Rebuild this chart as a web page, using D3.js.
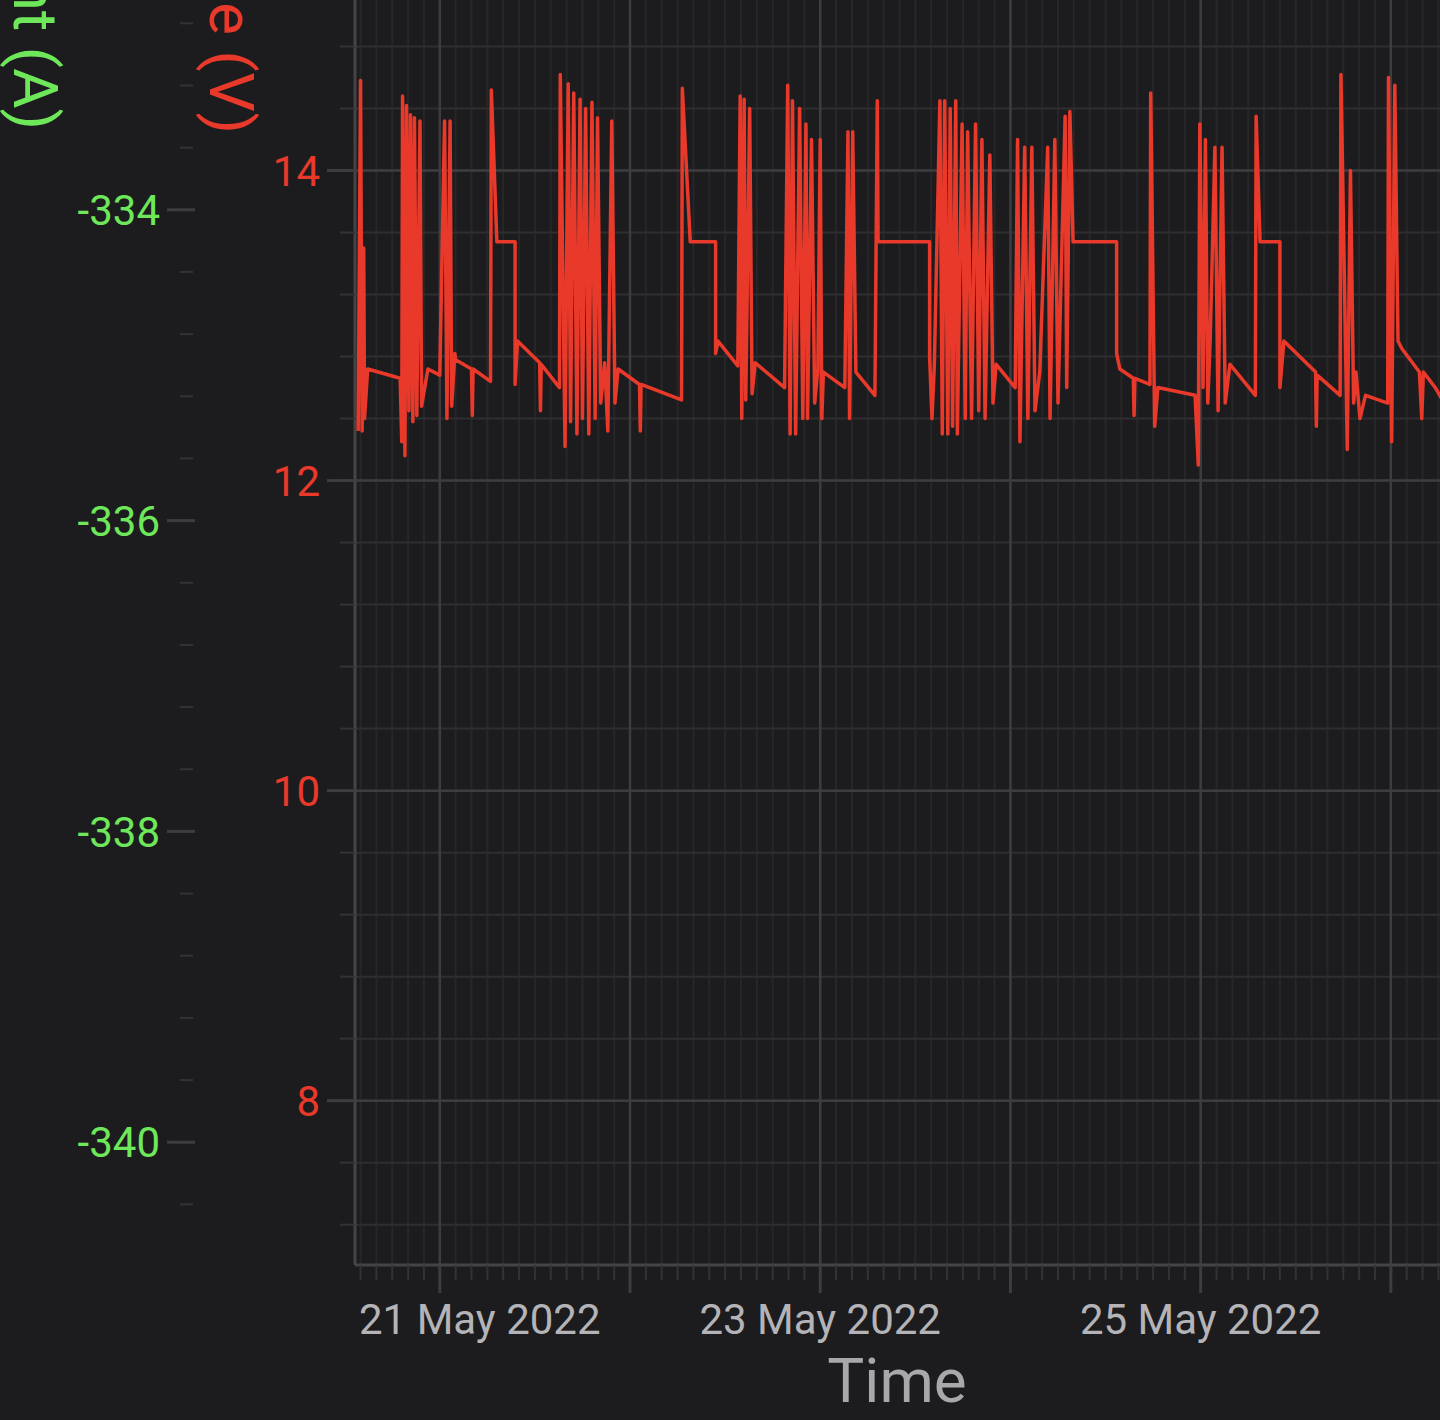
<!DOCTYPE html>
<html>
<head>
<meta charset="utf-8">
<script src="https://cdn.jsdelivr.net/npm/d3@7"></script>
<style>
  body { margin: 0; background: #1c1c1e; }
  text { font-family: Roboto, sans-serif; }
</style>
</head>
<body>
<script>
// hours after 20 May 2022 00:00 UTC
var hours = [13.7, 14.0, 14.2, 14.4, 14.5, 14.9, 19.0, 19.2, 19.3, 19.6, 19.8, 20.1, 20.3, 20.6, 20.8, 21.1, 21.5, 21.7, 22.5,
  24.0, 24.6, 24.9, 25.3, 25.5, 25.9, 26.0, 28.0, 28.1, 28.2, 30.4, 30.5, 31.2, 33.5, 33.5, 33.8, 36.6, 36.7, 36.8,
  39.1, 39.2, 39.8, 40.2, 40.5, 40.9, 41.3, 41.7, 42.0, 42.4, 42.8, 43.2, 43.6, 43.9, 44.3, 44.8, 45.2, 45.7, 46.1, 46.5,
  49.2, 49.3, 49.4, 54.5, 54.6, 55.6, 58.8, 58.8, 59.1, 61.6, 61.9, 62.1, 62.4, 62.6, 63.1, 63.4, 63.8,
  67.5, 67.9, 68.2, 68.5, 68.9, 69.4, 69.8, 70.2, 70.4, 70.9, 71.3, 71.7, 72.0, 72.2, 72.4,
  75.1, 75.5, 75.7, 76.1, 76.5, 78.9, 79.2, 79.3, 85.8, 85.8, 86.1, 86.4,
  87.1, 87.4, 87.7, 88.1, 88.4, 88.7, 89.1, 89.3, 89.9, 90.3, 90.6, 91.1, 91.6, 92.0, 92.4, 92.8, 93.4, 93.8, 94.2,
  96.6, 96.9, 97.2, 97.8, 98.2, 98.7, 99.1, 99.7, 100.7, 101.0, 101.6, 102.0, 102.9, 103.1, 103.5, 103.9,
  109.4, 109.4, 109.8, 111.5, 111.6, 111.7, 113.6, 113.7, 114.2, 114.6, 119.3, 119.7, 119.9, 120.3, 120.6, 120.9, 121.2,
  121.8, 122.2, 122.7, 123.1, 123.7, 126.9, 127.0, 127.5, 130.0, 130.0, 130.5, 134.5, 134.6, 134.7,
  137.6, 137.7, 138.5, 138.9, 139.3, 139.6, 140.1, 140.8, 143.6, 143.7, 144.1, 144.5, 144.9, 145.4,
  147.6, 147.9, 148.1, 149.6, 150.5];
var volts = [12.32, 14.58, 12.32, 13.5, 12.4, 12.72, 12.66, 12.25, 14.48, 12.16, 14.42, 12.45, 14.36, 12.38, 14.34, 12.42, 14.32, 12.48, 12.72,
  12.68, 14.32, 12.4, 14.32, 12.48, 12.82, 12.78, 12.72, 12.42, 12.72, 12.64, 14.52, 13.54, 13.54, 12.62, 12.9, 12.76, 12.45, 12.75,
  12.6, 14.62, 12.22, 14.56, 12.38, 14.5, 12.3, 14.46, 12.4, 14.4, 12.3, 14.44, 12.4, 14.34, 12.5, 12.76, 12.32, 14.32, 12.5, 12.72,
  12.62, 12.32, 12.62, 12.52, 14.53, 13.54, 13.54, 12.82, 12.9, 12.74, 14.48, 12.4, 14.46, 12.52, 14.4, 12.56, 12.76,
  12.6, 14.55, 12.3, 14.45, 12.3, 14.4, 12.4, 14.3, 12.4, 14.2, 12.5, 12.72, 14.2, 12.4, 12.7,
  12.6, 14.25, 12.4, 14.25, 12.7, 12.55, 14.45, 13.54, 13.54, 12.8, 12.4, 12.75,
  14.45, 12.3, 14.45, 12.3, 14.4, 12.35, 14.45, 12.3, 14.3, 12.4, 14.25, 12.4, 14.3, 12.45, 14.2, 12.4, 14.1, 12.5, 12.75,
  12.6, 14.2, 12.25, 14.15, 12.4, 14.15, 12.45, 12.7, 14.15, 12.4, 14.2, 12.5, 14.35, 12.6, 14.38, 13.54,
  13.54, 12.82, 12.72, 12.66, 12.42, 12.66, 12.62, 14.5, 12.35, 12.6, 12.55, 12.1, 14.3, 12.6, 14.2, 12.5, 12.9,
  14.15, 12.45, 14.15, 12.5, 12.75, 12.55, 14.35, 13.54, 13.54, 12.6, 12.9, 12.7, 12.35, 12.68,
  12.55, 14.62, 12.2, 14.0, 12.5, 12.7, 12.4, 12.55, 12.5, 14.6, 12.25, 14.55, 12.9, 12.85,
  12.7, 12.4, 12.7, 12.6, 12.52];
var voltTicks = [8, 10, 12, 14];
var ampTicks = [-340, -338, -336, -334];
var dayLabels = ["21 May 2022", "23 May 2022", "25 May 2022"];

var W = 1440, H = 1420, left = 355, bottom = 1265;
var t0 = Date.UTC(2022, 4, 20);
var toDate = h => new Date(t0 + h * 3600e3);

var svg = d3.select("body").append("svg").attr("width", W).attr("height", H);

var x = d3.scaleUtc().domain([toDate(13.3), toDate(150.2)]).range([left, W]);
var y = d3.scaleLinear().domain([6.94, 15.1]).range([bottom, 0]);
var yA = d3.scaleLinear().domain([-340.79, -332.65]).range([bottom, 0]);

var grid = svg.append("g");
// minor grid
grid.selectAll(".vm").data(x.ticks(d3.utcHour.every(2))).enter().append("line")
    .attr("x1", d => x(d)).attr("x2", d => x(d)).attr("y1", 0).attr("y2", bottom)
    .attr("stroke", "#27272a").attr("stroke-width", 2);
grid.selectAll(".hm").data(d3.range(7.2, 15.1, 0.4)).enter().append("line")
    .attr("x1", left).attr("x2", W).attr("y1", d => y(d)).attr("y2", d => y(d))
    .attr("stroke", "#2e2e31").attr("stroke-width", 2);
// major grid
grid.selectAll(".vM").data(x.ticks(d3.utcDay.every(1))).enter().append("line")
    .attr("x1", d => x(d)).attr("x2", d => x(d)).attr("y1", 0).attr("y2", bottom)
    .attr("stroke", "#3d3d40").attr("stroke-width", 2.5);
grid.selectAll(".hM").data(voltTicks).enter().append("line")
    .attr("x1", left).attr("x2", W).attr("y1", d => y(d)).attr("y2", d => y(d))
    .attr("stroke", "#3d3d40").attr("stroke-width", 2.5);

// axes lines
svg.append("line").attr("x1", left).attr("x2", left).attr("y1", 0).attr("y2", bottom)
    .attr("stroke", "#444447").attr("stroke-width", 3);
svg.append("line").attr("x1", left).attr("x2", W).attr("y1", bottom).attr("y2", bottom)
    .attr("stroke", "#444447").attr("stroke-width", 3);

// voltage ticks
svg.selectAll(".vtm").data(d3.range(7.2, 15.1, 0.4)).enter().append("line")
    .attr("x1", 340).attr("x2", left).attr("y1", d => y(d)).attr("y2", d => y(d))
    .attr("stroke", "#333336").attr("stroke-width", 2);
svg.selectAll(".vt").data(voltTicks).enter().append("line")
    .attr("x1", 327).attr("x2", left).attr("y1", d => y(d)).attr("y2", d => y(d))
    .attr("stroke", "#3d3d40").attr("stroke-width", 3);
svg.selectAll(".vl").data(voltTicks).enter().append("text")
    .attr("x", 320).attr("y", d => y(d)).attr("dy", "0.36em").attr("text-anchor", "end")
    .attr("font-size", 42).attr("fill", "#e8392a").text(d => d);

// current ticks
svg.selectAll(".atm").data(d3.range(-340.4, -332.6, 0.4)).enter().append("line")
    .attr("x1", 180).attr("x2", 193).attr("y1", d => yA(d)).attr("y2", d => yA(d))
    .attr("stroke", "#333336").attr("stroke-width", 2);
svg.selectAll(".at").data(ampTicks).enter().append("line")
    .attr("x1", 167).attr("x2", 195).attr("y1", d => yA(d)).attr("y2", d => yA(d))
    .attr("stroke", "#3d3d40").attr("stroke-width", 3);
svg.selectAll(".al").data(ampTicks).enter().append("text")
    .attr("x", 160).attr("y", d => yA(d)).attr("dy", "0.36em").attr("text-anchor", "end")
    .attr("font-size", 42).attr("fill", "#6ee85a").text(d => d);

// x ticks
svg.selectAll(".xtm").data(x.ticks(d3.utcHour.every(2))).enter().append("line")
    .attr("x1", d => x(d)).attr("x2", d => x(d)).attr("y1", bottom).attr("y2", 1280)
    .attr("stroke", "#333336").attr("stroke-width", 2);
var days = x.ticks(d3.utcDay.every(1));
svg.selectAll(".xt").data(days).enter().append("line")
    .attr("x1", d => x(d)).attr("x2", d => x(d)).attr("y1", bottom).attr("y2", 1293)
    .attr("stroke", "#3d3d40").attr("stroke-width", 3);
svg.selectAll(".xl").data(days.filter((d, i) => i % 2 === 0)).enter().append("text")
    .attr("x", (d, i) => x(d) + (i === 0 ? 40 : 0)).attr("y", 1334).attr("text-anchor", "middle")
    .attr("font-size", 42).attr("fill", "#b4b4b8").text((d, i) => dayLabels[i]);

// titles
svg.append("text").attr("x", 897).attr("y", 1402).attr("text-anchor", "middle")
    .attr("font-size", 62).attr("fill", "#a8a8ac").text("Time");
svg.append("text").attr("transform", "translate(210,134) rotate(90)").attr("text-anchor", "end")
    .attr("font-size", 62).attr("fill", "#e8392a").text("Voltage (V)");
svg.append("text").attr("transform", "translate(14,130) rotate(90)").attr("text-anchor", "end")
    .attr("font-size", 62).attr("fill", "#6ee85a").text("Current (A)");

// voltage line
var line = d3.line().x(d => x(toDate(d))).y((d, i) => y(volts[i]));
svg.append("path").datum(hours).attr("d", line)
    .attr("fill", "none").attr("stroke", "#e8392a").attr("stroke-width", 3.5).attr("stroke-linejoin", "round");
</script>
</body>
</html>
